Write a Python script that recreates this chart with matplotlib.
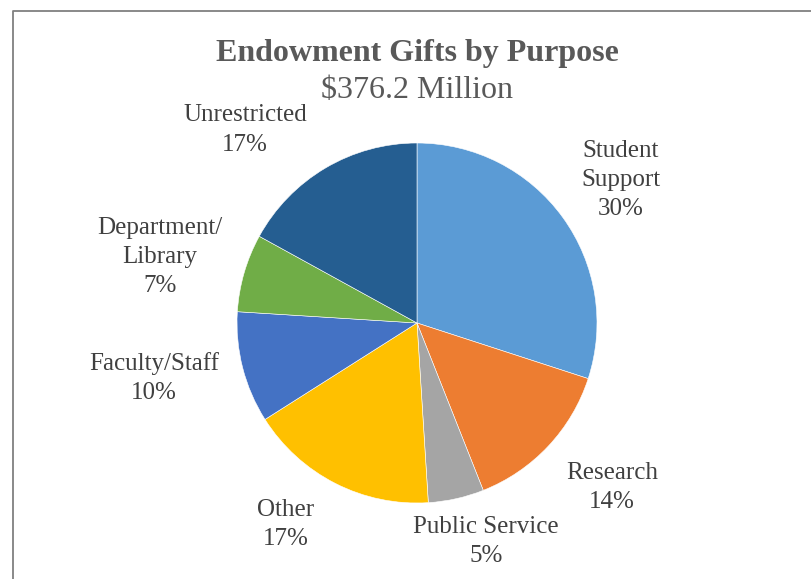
import matplotlib
matplotlib.use("Agg")
import matplotlib.pyplot as plt
from matplotlib.lines import Line2D

categories = ["Student\nSupport", "Research", "Public Service", "Other",
              "Faculty/Staff", "Department/\nLibrary", "Unrestricted"]
values = [30, 14, 5, 17, 10, 7, 17]
colors = ["#5B9BD5", "#ED7D31", "#A5A5A5", "#FFC000", "#4472C4", "#70AD47", "#255E91"]
title = "Endowment Gifts by Purpose"
subtitle = "$376.2 Million"

W, H = 811, 579
fig = plt.figure(figsize=(W / 100, H / 100), dpi=100)
ax = fig.add_axes([0, 0, 1, 1])

cx, cy, r = 417, H - 323, 180
ax.pie(values, colors=colors, startangle=90, counterclock=False,
       center=(cx, cy), radius=r, frame=True,
       wedgeprops=dict(edgecolor="white", linewidth=0.4))
ax.set_xlim(0, W)
ax.set_ylim(0, H)
ax.set_aspect("equal")
ax.axis("off")

# label positions (pixel coords from top-left)
label_pos = [(621, 180), (612, 487.5), (486, 541.5), (286, 524.5),
             (154, 378), (160, 257), (245, 130)]
font = "Liberation Serif"
for cat, v, (lx, ly) in zip(categories, values, label_pos):
    ax.text(lx, H - ly, f"{cat}\n{v}%", ha="center", va="center",
            fontsize=18, family=font, color="#404040", linespacing=1.42)

ax.text(417, H - 54, title, ha="center", va="center", fontsize=23,
        fontweight="bold", family=font, color="#595959")
ax.text(417, H - 90, subtitle, ha="center", va="center", fontsize=23,
        family=font, color="#595959")

# chart frame
fig.add_artist(Line2D([12.5 / W, 12.5 / W, 1.01], [-0.01, 1 - 10.5 / H, 1 - 10.5 / H],
                      transform=fig.transFigure, color="#808080", linewidth=1.3))

fig.savefig("out.png", dpi=100)
